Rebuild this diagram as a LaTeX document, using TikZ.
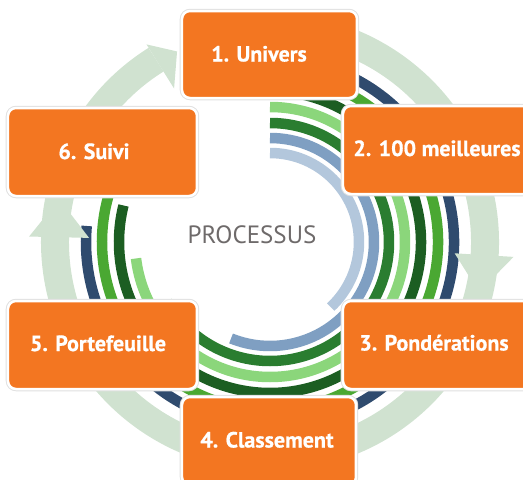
\documentclass[tikz,border=0pt]{standalone}
\usepackage{fontspec}
\setmainfont{PT Sans}
\newfontfamily\stepfont{PT Sans Bold}[FakeBold=0.7]
\usepackage{tikz}
\usetikzlibrary{positioning}
\definecolor{boxorange}{RGB}{243,118,33}
\definecolor{ringcolor}{RGB}{208,226,208}
\definecolor{navycolor}{RGB}{47,75,110}
\definecolor{midgreen}{RGB}{74,168,50}
\definecolor{darkgreen}{RGB}{28,94,34}
\definecolor{lightgreen}{RGB}{139,214,123}
\definecolor{plaingreen}{RGB}{42,125,48}
\definecolor{steelblue}{RGB}{127,159,194}
\definecolor{paleblue}{RGB}{179,199,220}
\definecolor{textgray}{RGB}{110,106,106}

\begin{document}
\begin{tikzpicture}[x=1pt, y=1pt,
    stepbox/.style={fill=boxorange, draw=white, line width=2.5pt, rounded corners=8pt, inner sep=0pt,
        preaction={draw=black!12, line width=4.5pt}},
    steplabel/.style={text=white, font=\fontsize{22}{26}\stepfont, text height=15pt, text depth=0pt, inner sep=0pt},
    band/.style={line width=10.5pt},
    ringhead/.style={fill=ringcolor}]
    \useasboundingbox (-270,-238) rectangle (253,242);
    \clip (-270,-238) rectangle (253,242);

    % Outer ring
    \draw[ringcolor, line width=28pt] (100:215pt) arc[start angle=100, end angle=-238, radius=215pt];

    % Inner arcs
    \draw[band, paleblue] (90:89pt) arc[start angle=90, end angle=-47, radius=89pt];
    \draw[band, steelblue] (90:104pt) arc[start angle=90, end angle=-112, radius=104pt];
    \draw[band, plaingreen] (90:119pt) arc[start angle=90, end angle=-150, radius=119pt];
    \draw[band, lightgreen] (90:135pt) arc[start angle=90, end angle=-173, radius=135pt];
    \draw[band, darkgreen] (100:151pt) arc[start angle=100, end angle=-194, radius=151pt];
    \draw[band, midgreen] (115:168pt) arc[start angle=115, end angle=-225, radius=168pt];
    \draw[band, navycolor] (105:184pt) arc[start angle=105, end angle=-185, radius=184pt];

    % Arrow heads
    \fill[ringhead] (122:181pt) -- (122:233pt) -- (116:212pt) -- cycle;
    \fill[ringhead] (-3.5:185pt) -- (-3.5:244pt) -- (-13.5:215pt) -- cycle;
    \fill[ringhead] (178.7:181pt) -- (178.7:241pt) -- (168.5:215pt) -- cycle;

    % Centre title
    \node[text=textgray, font=\fontsize{25}{30}\selectfont] (title) at (-18,7) {PROCESSUS};

    % Step 1
    \node[stepbox, minimum width=175pt, minimum height=87pt] (univers) at (-0.5,187.5) {};
    \node[steplabel] (universlabel) at (-11,188) {1. Univers};

    % Step 2
    \node[stepbox, minimum width=189pt, minimum height=88pt] (meilleures) at (167.5,92) {};
    \node[steplabel] (meilleureslabel) at (167,93.5) {2. 100 meilleures};

    % Step 3
    \node[stepbox, minimum width=189pt, minimum height=88pt] (ponderations) at (167.5,-103) {};
    \node[steplabel] (ponderationslabel) at (164,-101) {3. Pondérations};

    % Step 4
    \node[stepbox, minimum width=174pt, minimum height=88pt] (classement) at (-1,-199) {};
    \node[steplabel] (classementlabel) at (-3,-198) {4. Classement};

    % Step 5
    \node[stepbox, minimum width=189pt, minimum height=88pt] (portefeuille) at (-167.5,-103) {};
    \node[steplabel] (portefeuillelabel) at (-172,-101.5) {5. Portefeuille};

    % Step 6
    \node[stepbox, minimum width=189pt, minimum height=88pt] (suivi) at (-167.5,90) {};
    \node[steplabel] (suivilabel) at (-176,90.5) {6. Suivi};

\end{tikzpicture}
\end{document}
